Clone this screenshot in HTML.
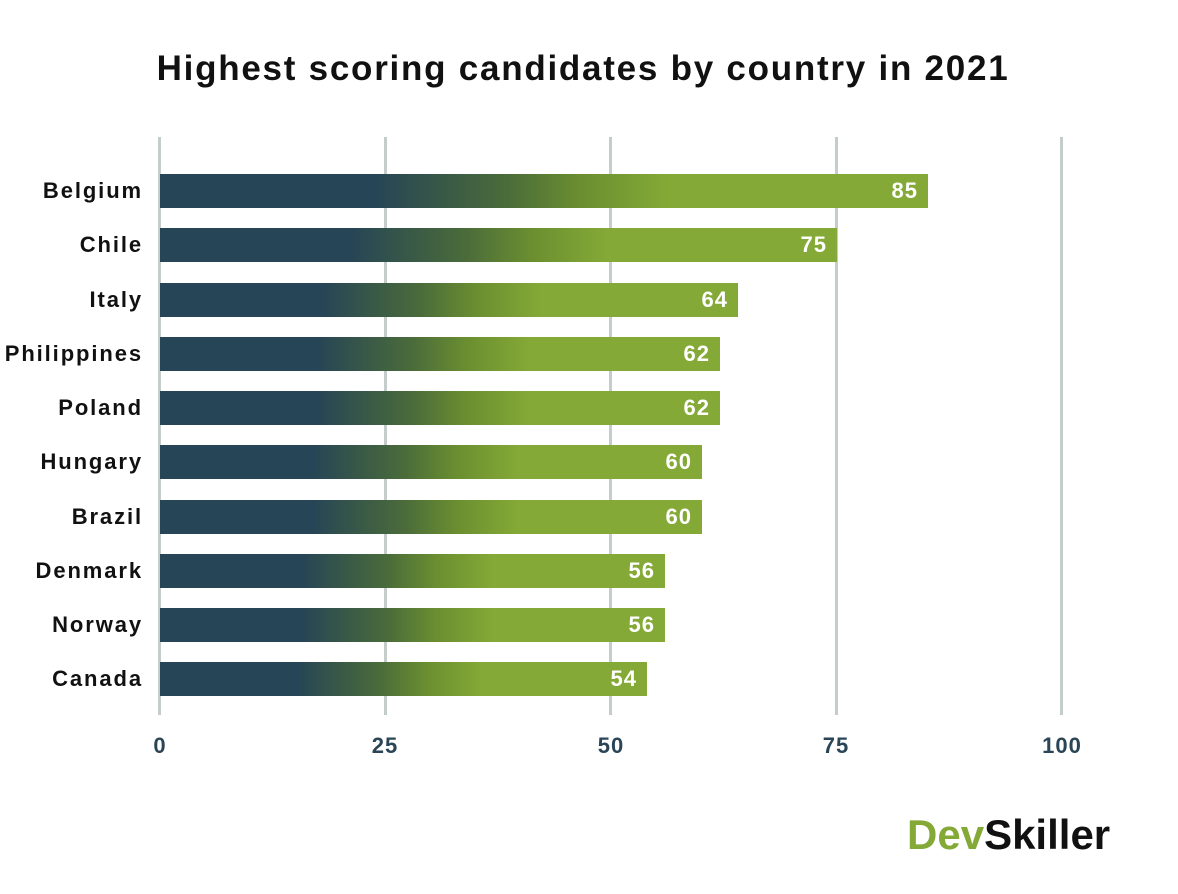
<!DOCTYPE html>
<html><head><style>
body{margin:0;width:1178px;height:894px;background:#fff;font-family:"Liberation Sans",sans-serif;position:relative;overflow:hidden}
.t{position:absolute;left:0;width:1166px;text-align:center;top:49px;font-size:35px;font-weight:bold;color:#111;letter-spacing:1.75px}
.g{position:absolute;top:137px;height:578px;width:3px;background:#c5cccc}
.b{position:absolute;left:160px;height:34px;background:linear-gradient(90deg,#264556 0%,#264556 28%,#4a6b3a 45%,#6b8f30 55%,#84a936 66%,#84a936 100%);color:#fff;font-weight:bold;font-size:22px;text-align:right;line-height:34px;box-sizing:border-box;padding-right:10px;letter-spacing:1px}
.l{position:absolute;right:1035px;font-size:22px;font-weight:bold;color:#111;line-height:34px;text-align:right;white-space:nowrap;letter-spacing:1.9px}
.x{position:absolute;top:733px;font-size:22px;font-weight:bold;color:#2a4556;width:60px;margin-left:-30px;text-align:center;letter-spacing:1px}
.logo{position:absolute;left:907px;top:811px;font-size:42px;font-weight:bold;letter-spacing:0px}
</style></head><body>
<div class="t">Highest scoring candidates by country in 2021</div>
<div class="g" style="left:158px"></div><div class="g" style="left:384px"></div><div class="g" style="left:609px"></div><div class="g" style="left:835px"></div><div class="g" style="left:1060px"></div>
<div class="l" style="top:174px">Belgium</div><div class="b" style="top:174px;width:768px">85</div>
<div class="l" style="top:228px">Chile</div><div class="b" style="top:228px;width:677px">75</div>
<div class="l" style="top:283px">Italy</div><div class="b" style="top:283px;width:578px">64</div>
<div class="l" style="top:337px">Philippines</div><div class="b" style="top:337px;width:560px">62</div>
<div class="l" style="top:391px">Poland</div><div class="b" style="top:391px;width:560px">62</div>
<div class="l" style="top:445px">Hungary</div><div class="b" style="top:445px;width:542px">60</div>
<div class="l" style="top:500px">Brazil</div><div class="b" style="top:500px;width:542px">60</div>
<div class="l" style="top:554px">Denmark</div><div class="b" style="top:554px;width:505px">56</div>
<div class="l" style="top:608px">Norway</div><div class="b" style="top:608px;width:505px">56</div>
<div class="l" style="top:662px">Canada</div><div class="b" style="top:662px;width:487px">54</div>
<div class="x" style="left:160px">0</div><div class="x" style="left:385px">25</div><div class="x" style="left:611px">50</div><div class="x" style="left:836px">75</div><div class="x" style="left:1062px">100</div>
<div class="logo"><span style="color:#84a936">Dev</span><span style="color:#111">Skiller</span></div>
</body></html>
